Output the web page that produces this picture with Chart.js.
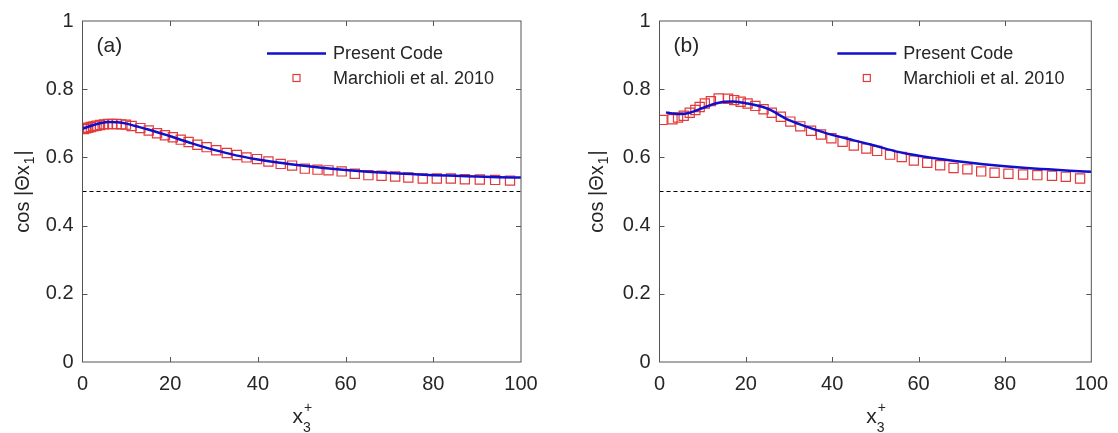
<!DOCTYPE html>
<html>
<head>
<meta charset="utf-8">
<script src="https://cdn.jsdelivr.net/npm/chart.js@4.4.0/dist/chart.umd.min.js"></script>
<style>
html, body { margin: 0; padding: 0; background: #fff }
#wrap { position: relative; width: 1118px; height: 433px }
.panel { position: absolute; top: 0; width: 559px; height: 433px }
</style>
</head>
<body>
<div id="wrap">
  <div class="panel" style="left:0"><canvas id="chartA"></canvas></div>
  <div class="panel" style="left:559px"><canvas id="chartB"></canvas></div>
</div>
<script>
// axis ticks
const xTicks = [0, 20, 40, 60, 80, 100]
const yTicks = [0, 0.2, 0.4, 0.6, 0.8, 1]
const refLevel = 0.5

const seriesNames = ["Present Code", "Marchioli et al. 2010"]

// panel (a)
const codeXA = [0, 2, 4, 6, 8, 10, 12, 15, 20, 25, 30, 35, 40, 45, 50, 55, 60, 65, 70, 75, 80, 85, 90, 95, 100]
const codeYA = [0.684, 0.693, 0.700, 0.704, 0.703, 0.699, 0.692, 0.682, 0.662, 0.641, 0.622, 0.606, 0.594, 0.584, 0.576, 0.569, 0.563, 0.558, 0.554, 0.551, 0.548, 0.546, 0.544, 0.542, 0.541]
const refXA = [0.3, 0.8, 1.3, 1.9, 2.5, 3.2, 4.0, 4.9, 5.8, 6.8, 7.8, 8.8, 9.9, 11.2, 13.2, 15.1, 17.0, 18.8, 20.6, 22.4, 24.2, 26.2, 28.3, 30.5, 32.9, 35.2, 37.4, 39.8, 42.4, 45.2, 47.8, 50.7, 53.6, 56.1, 59.1, 62.1, 65.2, 68.2, 71.3, 74.3, 77.6, 80.8, 84.0, 87.2, 90.6, 94.1, 97.5]
const refYA = [0.683, 0.685, 0.687, 0.689, 0.691, 0.693, 0.695, 0.697, 0.698, 0.698, 0.698, 0.697, 0.696, 0.692, 0.686, 0.679, 0.671, 0.665, 0.659, 0.652, 0.645, 0.637, 0.630, 0.621, 0.613, 0.607, 0.600, 0.595, 0.588, 0.581, 0.576, 0.567, 0.564, 0.562, 0.559, 0.552, 0.548, 0.546, 0.544, 0.541, 0.538, 0.538, 0.538, 0.536, 0.535, 0.534, 0.532]

// panel (b)
const codeXB = [1.5, 3, 5, 7, 10, 13, 15, 17, 20, 25, 30, 35, 40, 45, 50, 55, 60, 65, 70, 75, 80, 85, 90, 95, 100]
const codeYB = [0.732, 0.729, 0.727, 0.731, 0.745, 0.758, 0.763, 0.764, 0.759, 0.743, 0.709, 0.686, 0.666, 0.650, 0.634, 0.617, 0.605, 0.595, 0.587, 0.580, 0.574, 0.569, 0.565, 0.561, 0.558]
const refXB = [0.7, 3.0, 4.3, 5.6, 7.0, 8.3, 9.3, 10.5, 11.9, 13.7, 15.9, 17.3, 18.8, 20.4, 22.2, 24.1, 26.0, 28.1, 30.3, 32.6, 35.1, 37.4, 39.8, 42.4, 45.0, 47.9, 50.4, 53.4, 56.1, 58.9, 62.0, 65.0, 68.1, 71.3, 74.5, 77.6, 80.8, 84.2, 87.5, 90.9, 94.1, 97.4]
const refYB = [0.710, 0.712, 0.717, 0.722, 0.731, 0.739, 0.748, 0.758, 0.765, 0.773, 0.772, 0.768, 0.763, 0.758, 0.751, 0.741, 0.731, 0.719, 0.705, 0.691, 0.678, 0.667, 0.656, 0.646, 0.635, 0.626, 0.619, 0.608, 0.601, 0.591, 0.584, 0.577, 0.569, 0.565, 0.559, 0.555, 0.552, 0.550, 0.548, 0.546, 0.543, 0.538]

const FONT = '"Liberation Sans", Arial, Helvetica, sans-serif'
const TXT = "#262626"
const BLUE = "#1010cc"
const RED = "#e23a3a"

const zip = (xs, ys) => xs.map((x, i) => ({ x, y: ys[i] }))

// box with inward ticks, MATLAB style
const framePlugin = {
  id: "frame",
  afterDatasetsDraw(chart) {
    const { ctx, chartArea: a, scales: { x, y } } = chart
    ctx.save()
    ctx.strokeStyle = "#555"
    ctx.lineWidth = 1
    ctx.strokeRect(a.left, a.top, a.right - a.left, a.bottom - a.top)
    ctx.beginPath()
    xTicks.slice(1, -1).forEach(v => {
      const px = Math.round(x.getPixelForValue(v)) + 0.5
      ctx.moveTo(px, a.bottom); ctx.lineTo(px, a.bottom - 5)
      ctx.moveTo(px, a.top); ctx.lineTo(px, a.top + 5)
    })
    yTicks.slice(1, -1).forEach(v => {
      const py = Math.round(y.getPixelForValue(v)) + 0.5
      ctx.moveTo(a.left, py); ctx.lineTo(a.left + 5, py)
      ctx.moveTo(a.right, py); ctx.lineTo(a.right - 5, py)
    })
    ctx.stroke()
    ctx.restore()
  }
}

// panel tag, axis titles with sub/superscripts, legend inside plot
const textPlugin = {
  id: "texts",
  afterDraw(chart, args, o) {
    const { ctx, chartArea: a } = chart
    const ds = chart.data.datasets
    ctx.save()
    ctx.fillStyle = TXT
    ctx.textBaseline = "alphabetic"

    ctx.font = "21px " + FONT
    ctx.fillText(o.tag, a.left + 14, 52)

    // y title
    ctx.save()
    ctx.translate(o.yTitleX, (a.top + a.bottom) / 2)
    ctx.rotate(-Math.PI / 2)
    const p1 = "cos |\u0398x", p3 = "|"
    ctx.font = "20px " + FONT
    const w1 = ctx.measureText(p1).width, w3 = ctx.measureText(p3).width
    ctx.font = "14px " + FONT
    const w2 = ctx.measureText("1").width + 2
    const sx = -(w1 + w2 + w3) / 2
    ctx.font = "20px " + FONT
    ctx.fillText(p1, sx, 0)
    ctx.font = "14px " + FONT
    ctx.fillText("1", sx + w1 + 1, 5)
    ctx.font = "20px " + FONT
    ctx.fillText(p3, sx + w1 + w2, 0)
    ctx.restore()

    // x title
    const cx = (a.left + a.right) / 2
    ctx.font = "21px " + FONT
    const wx = ctx.measureText("x").width
    const x0 = cx - (wx + 8) / 2
    ctx.fillText("x", x0, 423)
    ctx.font = "14px " + FONT
    ctx.fillText("+", x0 + wx + 1, 412)
    ctx.fillText("3", x0 + wx, 432)

    // legend
    const lx = a.right - 254
    ctx.strokeStyle = ds[0].borderColor
    ctx.lineWidth = ds[0].borderWidth
    ctx.beginPath(); ctx.moveTo(lx, 53.5); ctx.lineTo(lx + 59, 53.5); ctx.stroke()
    ctx.strokeStyle = ds[1].borderColor
    ctx.lineWidth = 1.2
    ctx.strokeRect(lx + 26, 74.5, 7, 7)
    ctx.font = "18px " + FONT
    ctx.textBaseline = "middle"
    ctx.fillText(ds[0].label, lx + 66, 54)
    ctx.fillText(ds[1].label, lx + 66, 79)
    ctx.restore()
  }
}

function makeChart(id, codeX, codeY, refX, refY, cfg) {
  return new Chart(document.getElementById(id), {
    type: "scatter",
    data: {
      datasets: [
        { label: seriesNames[0], data: zip(codeX, codeY), showLine: true, borderColor: BLUE, borderWidth: 2.5, pointRadius: 0, tension: 0.4, cubicInterpolationMode: "monotone", order: 0 },
        { label: seriesNames[1], data: zip(refX, refY), pointStyle: "rect", pointRadius: 6.5, borderColor: RED, backgroundColor: "rgba(0,0,0,0)", pointBorderWidth: 1.2, order: 1 },
        { label: "ref", data: [{ x: xTicks[0], y: refLevel }, { x: xTicks[xTicks.length - 1], y: refLevel }], showLine: true, borderColor: "#000", borderWidth: 1, borderDash: [4, 3], pointRadius: 0, order: 2 }
      ]
    },
    options: {
      responsive: true,
      maintainAspectRatio: false,
      animation: false,
      events: [],
      layout: { padding: { top: 17.5, right: cfg.right, left: 0, bottom: 0 } },
      plugins: {
        legend: { display: false },
        tooltip: { enabled: false },
        texts: { tag: cfg.tag, yTitleX: cfg.yTitleX }
      },
      scales: {
        x: {
          type: "linear", min: 0, max: 100,
          afterBuildTicks: s => { s.ticks = xTicks.map(v => ({ value: v })) },
          afterFit: s => { s.height = 71 },
          grid: { display: false, drawTicks: false },
          border: { display: false },
          ticks: { color: TXT, font: { family: FONT, size: 20 }, padding: 10, maxRotation: 0 }
        },
        y: {
          min: 0, max: 1,
          afterBuildTicks: s => { s.ticks = yTicks.map(v => ({ value: v })) },
          afterFit: s => { s.width = cfg.yw },
          grid: { display: false, drawTicks: false },
          border: { display: false },
          ticks: { color: TXT, font: { family: FONT, size: 20 }, padding: 9, callback: v => String(+v.toFixed(1)) }
        }
      }
    },
    plugins: [framePlugin, textPlugin]
  })
}

makeChart("chartA", codeXA, codeYA, refXA, refYA, { tag: "(a)", right: 38, yw: 82.5, yTitleX: 29 })
makeChart("chartB", codeXB, codeYB, refXB, refYB, { tag: "(b)", right: 20.5, yw: 100.5, yTitleX: 44 })
</script>
</body>
</html>
